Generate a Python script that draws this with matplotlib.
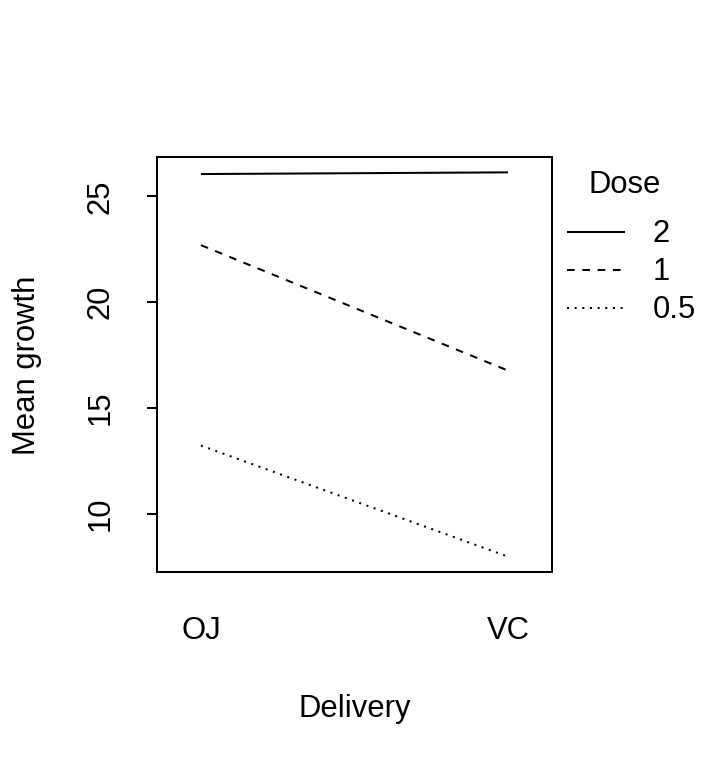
import matplotlib
matplotlib.use("Agg")
import matplotlib.pyplot as plt
from matplotlib.lines import Line2D

plt.rcParams['font.family'] = ['Liberation Sans', 'DejaVu Sans']

delivery = ["OJ", "VC"]
doses = ["2", "1", "0.5"]
growth_2 = [26.06, 26.14]
growth_1 = [22.70, 16.77]
growth_05 = [13.23, 7.98]
yticks = [10, 15, 20, 25]

W, H = 718, 768
lw = 1.45
styles = {"2": (0, ()), "1": (0, (3.8, 3.8)), "0.5": (0, (1, 2.8))}
series = {"2": growth_2, "1": growth_1, "0.5": growth_05}

fig = plt.figure(figsize=(W / 100, H / 100), dpi=100)
ax = fig.add_axes([157 / W, 1 - 572 / H, (552 - 157) / W, (572 - 157) / H])

fs = 22.3
xs = [1, 2]
for d in doses:
    ax.plot(xs, series[d], color='black', lw=lw, linestyle=styles[d],
            dash_capstyle='butt', solid_capstyle='butt')

ax.set_xlim(0.857, 2.143)
ax.set_ylim(7.254, 26.866)
ax.set_xticks(xs)
ax.set_xticklabels(delivery, fontsize=fs)
ax.tick_params(axis='x', length=0, pad=32)
ax.set_yticks(yticks)
ax.set_yticklabels([str(t) for t in yticks], fontsize=fs, rotation=90, va='center')
ax.tick_params(axis='y', length=7.2, width=lw, pad=22.5)
for s in ax.spines.values():
    s.set_linewidth(lw)

fig.text(355 / W, 1 - 709 / H, "Delivery", fontsize=fs, ha='center', va='center')
fig.text(27 / W, 1 - 365 / H, "Mean growth", fontsize=fs, ha='center', va='center', rotation=90)

# legend
fig.text(625 / W, 1 - 185 / H, "Dose", fontsize=fs, ha='center', va='center')
ys = [232, 270, 308]
for d, y in zip(doses, ys):
    fig.add_artist(Line2D([567 / W, 625 / W], [1 - y / H, 1 - y / H], transform=fig.transFigure,
                          color='black', lw=lw, linestyle=styles[d], dash_capstyle='butt'))
    fig.text(653 / W, 1 - (y + 2) / H, d, fontsize=fs, ha='left', va='center')

fig.savefig("out.png", dpi=100)
